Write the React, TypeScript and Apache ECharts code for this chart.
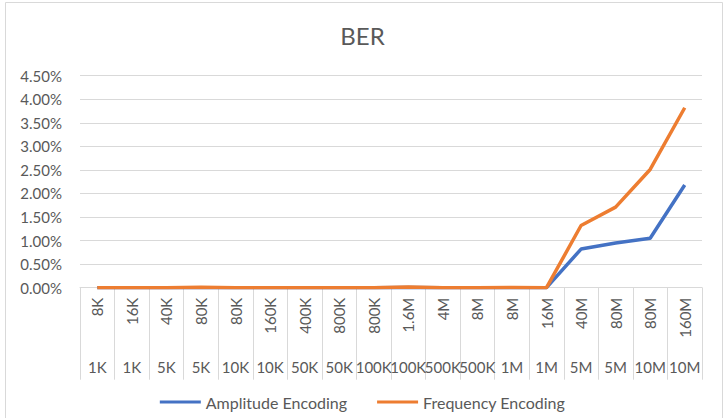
import React, { useEffect, useRef } from "react";
import * as echarts from "echarts";

const topLabels = ["8K", "16K", "40K", "80K", "80K", "160K", "400K", "800K", "800K", "1.6M", "4M", "8M", "8M", "16M", "40M", "80M", "80M", "160M"];
const bottomLabels = ["1K", "1K", "5K", "5K", "10K", "10K", "50K", "50K", "100K", "100K", "500K", "500K", "1M", "1M", "5M", "5M", "10M", "10M"];
const amplitude = [0, 0, 0, 0, 0, 0, 0, 0, 0, 0.005, 0, 0, 0, 0, 0.82, 0.95, 1.05, 2.18];
const frequency = [0, 0, 0, 0.01, 0, 0, 0, 0, 0, 0.015, 0, 0, 0.005, 0, 1.32, 1.71, 2.51, 3.82];
const yTicks = { min: 0, max: 4.5, interval: 0.5 };

const FONT = "Lato";
const GRAY = "#595959";

export default function App() {
  const ref = useRef<HTMLDivElement>(null);
  useEffect(() => {
    const chart = echarts.init(ref.current!, null, { renderer: "svg" });
    chart.setOption({
      animation: false,
      backgroundColor: "#fff",
      textStyle: { fontFamily: FONT, color: GRAY },
      title: {
        text: "BER",
        left: "center",
        top: 18,
        textStyle: { fontFamily: FONT, fontSize: 24, fontWeight: "normal", color: GRAY },
      },
      graphic: [
        {
          type: "rect",
          shape: { x: 5.5, y: 2.5, width: 717, height: 420 },
          style: { fill: "none", stroke: "#d9d9d9", lineWidth: 1 },
          silent: true,
        },
      ],
      legend: {
        bottom: 3,
        left: "center",
        icon: "rect",
        itemWidth: 41,
        itemHeight: 3,
        itemGap: 30,
        textStyle: { fontFamily: FONT, fontSize: 16, color: GRAY },
        data: ["Amplitude Encoding", "Frequency Encoding"],
      },
      grid: { left: 80, right: 23, top: 75.7, bottom: 130.3 },
      xAxis: [
        {
          type: "category",
          data: topLabels,
          boundaryGap: true,
          position: "bottom",
          axisLine: { lineStyle: { color: "#d9d9d9", width: 1 } },
          axisTick: { show: true, interval: 0, length: 92, lineStyle: { color: "#d9d9d9" } },
          axisLabel: { interval: 0, rotate: 90, margin: 10, fontFamily: FONT, fontSize: 15, color: GRAY },
        },
        {
          type: "category",
          data: bottomLabels,
          boundaryGap: true,
          position: "bottom",
          offset: 0,
          axisLine: { show: false },
          axisTick: { show: false },
          axisLabel: { interval: 0, margin: 72, fontFamily: FONT, fontSize: 15, color: GRAY },
        },
      ],
      yAxis: {
        type: "value",
        min: yTicks.min,
        max: yTicks.max,
        interval: yTicks.interval,
        axisLine: { show: false },
        axisTick: { show: false },
        splitLine: { lineStyle: { color: "#d9d9d9", width: 1 } },
        axisLabel: {
          margin: 18,
          fontFamily: FONT,
          fontSize: 15,
          color: GRAY,
          formatter: (v: number) => v.toFixed(2) + "%",
        },
      },
      series: [
        {
          name: "Amplitude Encoding",
          type: "line",
          data: amplitude,
          xAxisIndex: 0,
          symbol: "none",
          lineStyle: { color: "#4472C4", width: 3.5 },
          itemStyle: { color: "#4472C4" },
        },
        {
          name: "Frequency Encoding",
          type: "line",
          data: frequency,
          xAxisIndex: 0,
          symbol: "none",
          lineStyle: { color: "#ED7D31", width: 3.5 },
          itemStyle: { color: "#ED7D31" },
        },
      ],
    });
    return () => chart.dispose();
  }, []);
  return <div ref={ref} style={{ position: "absolute", left: 0, top: 0, width: 725, height: 418 }} />;
}
